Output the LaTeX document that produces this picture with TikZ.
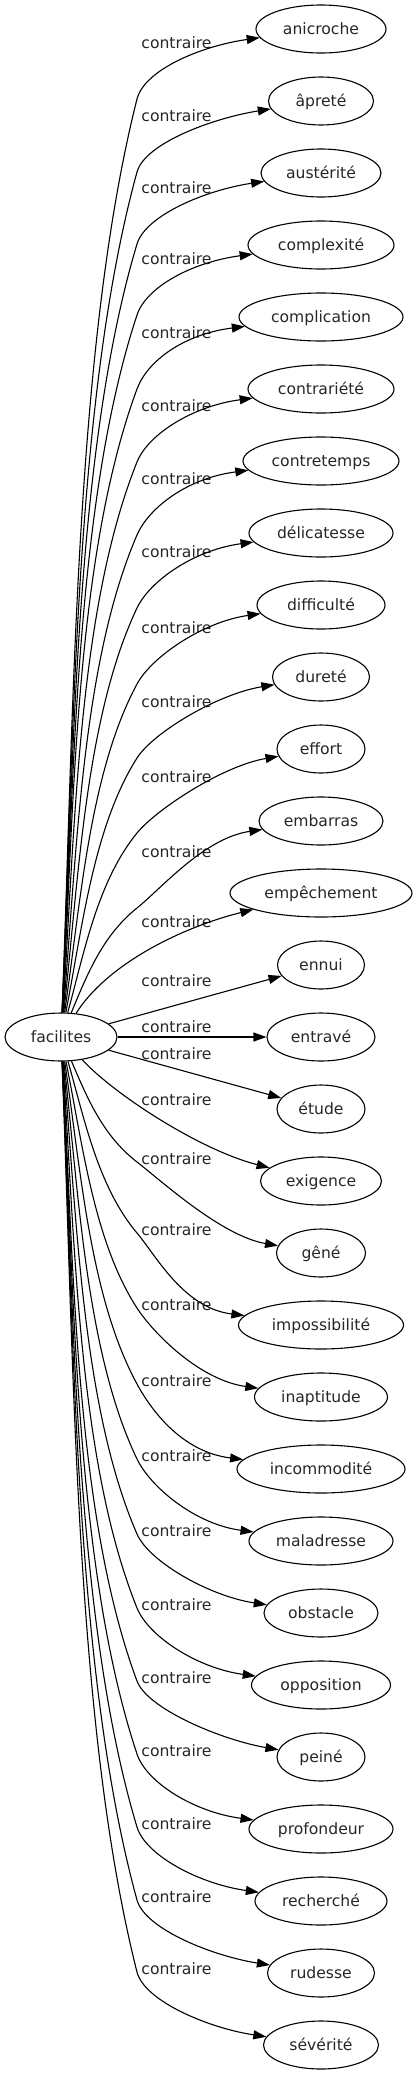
\documentclass[tikz,border=0pt]{standalone}
\usepackage{fontspec}
\setmainfont{DejaVu Sans}
\usetikzlibrary{arrows.meta,calc,shapes.geometric}
\begin{document}
\begin{tikzpicture}[x=1pt,y=-1pt,
  every node/.style={font=\fontsize{15.6pt}{19pt}\selectfont, text=black!85},
  word/.style={ellipse, draw=black, line width=1.1pt, inner sep=0pt, minimum height=48pt, text height=12pt, text depth=2pt},
  lab/.style={inner sep=0pt},
  edge/.style={line width=1.1pt, -{Triangle[length=13pt,width=9pt]}}]
\useasboundingbox (0,0) rectangle (417,2075);
\node[word, minimum width=112pt] (f) at (61,1037) {facilites};
\foreach \ii/\ww/\nm/\lly in {0/130/anicroche/43, 1/105/âpreté/116, 2/120/austérité/188, 3/146/complexité/259, 4/164/complication/333, 5/146/contrariété/406, 6/156/contretemps/479, 7/144/délicatesse/552, 8/128/difficulté/628, 9/97/dureté/702, 10/88/effort/777, 11/124/embarras/852, 12/182/empêchement/922, 13/87/ennui/981, 14/108/entravé/1027, 15/88/étude/1054, 16/121/exigence/1100, 17/89/gêné/1159, 18/165/impossibilité/1230, 19/133/inaptitude/1305, 20/168/incommodité/1381, 21/144/maladresse/1456, 22/114/obstacle/1531, 23/139/opposition/1605, 24/88/peiné/1678, 25/144/profondeur/1751, 26/132/recherché/1824, 27/107/rudesse/1897, 28/115/sévérité/1969}{
  \pgfmathsetmacro\ty{29+72*\ii}
  \node[word, minimum width=\ww pt] (t\ii) at (321,\ty) {\nm};
  \node[lab] (l\ii) at (176.5,\lly) {contraire};
}
% upper edges
\foreach \ii/\ww/\lly in {0/130/43, 1/105/116, 2/120/188, 3/146/259, 4/164/333, 5/146/406, 6/156/479, 7/144/552, 8/128/628, 9/97/702, 10/88/777, 11/124/852}{
  \pgfmathsetmacro\ty{29+72*\ii}
  \pgfmathsetmacro\ky{\lly+56}
  \pgfmathsetmacro\LL{1013-\ky}
  \pgfmathsetmacro\rr{min(1,\LL/600)}
  \pgfmathsetmacro\fa{0.16*\rr+0.35*(1-\rr)}
  \pgfmathsetmacro\fb{0.17*\rr+0.6*(1-\rr)}
  \pgfmathsetmacro\ax{62+75*\fa}
  \pgfmathsetmacro\ay{1013-0.33*\LL}
  \pgfmathsetmacro\bx{62+75*\fb}
  \pgfmathsetmacro\by{1013-0.73*\LL}
  \pgfmathsetmacro\qx{321-\ww/2-55}
  \pgfmathsetmacro\qy{\ty+17}
  \coordinate (k\ii) at (137,\ky);
  \draw[edge] (f) .. controls (\ax,\ay) and (\bx,\by) .. (k\ii) .. controls ($(k\ii)!-30pt!(\bx,\by)$) and (\qx,\qy) .. (t\ii);
}
% lower edges
\foreach \ii/\ww/\lly in {17/89/1159, 18/165/1230, 19/133/1305, 20/168/1381, 21/144/1456, 22/114/1531, 23/139/1605, 24/88/1678, 25/144/1751, 26/132/1824, 27/107/1897, 28/115/1969}{
  \pgfmathsetmacro\ty{29+72*\ii}
  \pgfmathsetmacro\ky{\lly+3}
  \pgfmathsetmacro\LL{\ky-1061}
  \pgfmathsetmacro\rr{min(1,\LL/600)}
  \pgfmathsetmacro\fa{0.16*\rr+0.35*(1-\rr)}
  \pgfmathsetmacro\fb{0.17*\rr+0.6*(1-\rr)}
  \pgfmathsetmacro\ax{62+75*\fa}
  \pgfmathsetmacro\ay{1061+0.33*\LL}
  \pgfmathsetmacro\bx{62+75*\fb}
  \pgfmathsetmacro\by{1061+0.73*\LL}
  \pgfmathsetmacro\qx{321-\ww/2-55}
  \pgfmathsetmacro\qy{\ty-17}
  \coordinate (k\ii) at (137,\ky);
  \draw[edge] (f) .. controls (\ax,\ay) and (\bx,\by) .. (k\ii) .. controls ($(k\ii)!-30pt!(\bx,\by)$) and (\qx,\qy) .. (t\ii);
}
% middle edges
\draw[edge] (f) .. controls (110,960) and (190,925) .. (t12);
\draw[edge] (f) -- (t13);
\draw[edge] (f) -- (t14);
\draw[edge] (f) -- (t15);
\draw[edge] (f) .. controls (115,1095) and (200,1150) .. (t16);
\end{tikzpicture}
\end{document}
